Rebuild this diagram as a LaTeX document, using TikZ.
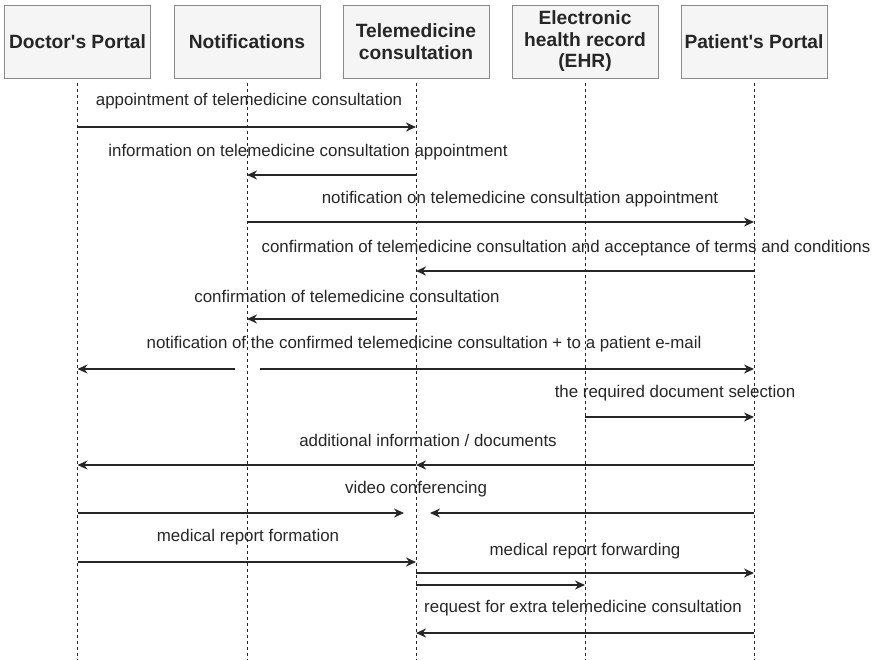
\documentclass[tikz,border=0pt]{standalone}
\usepackage{fontspec}
\setmainfont{Liberation Sans}
\usetikzlibrary{arrows.meta}
\definecolor{boxfill}{HTML}{F5F5F5}
\definecolor{boxline}{HTML}{8A8A8A}
\definecolor{ink}{HTML}{262626}
\begin{document}
\begin{tikzpicture}[x=1pt,y=-1pt,
		actor/.style={draw=boxline,fill=boxfill,line width=1pt,minimum width=146pt,minimum height=73pt,align=center,inner sep=0pt,text=ink,font=\bfseries\fontsize{19.2}{21.5}\selectfont},
		life/.style={draw=ink,line width=.8pt,dash pattern=on 3pt off 3pt},
		msg/.style={draw=ink,line width=1.3pt,-{Stealth[length=10pt,width=9pt]}},
		lbl/.style={text=ink,inner sep=0pt,font=\fontsize{16.9}{19}\selectfont}]
	\useasboundingbox (0,0) rectangle (874,659);

	% participants
	\node[actor] (doc) at (77.5,41.5) {Doctor\textquotesingle s Portal};
	\node[actor] (notif) at (247,41.5) {Notifications};
	\node[actor] (tele) at (416,41.5) {Telemedicine\\consultation};
	\node[actor] (ehr) at (585,41.5) {Electronic\\health record\\(EHR)};
	\node[actor] (pat) at (754,41.5) {Patient\textquotesingle s Portal};

	\coordinate (bot) at (0,659);
	\foreach \p in {doc,notif,tele,ehr,pat}
		\draw[life] ([yshift=-4pt]\p.south) -- (\p |- bot);

	% message rows
	\coordinate (r1) at (0,127);
	\coordinate (r2) at (0,175);
	\coordinate (r3) at (0,222);
	\coordinate (r4) at (0,271);
	\coordinate (r5) at (0,319);
	\coordinate (r6) at (0,369);
	\coordinate (r7) at (0,417);
	\coordinate (r8) at (0,465);
	\coordinate (r9) at (0,513);
	\coordinate (r10) at (0,562);
	\coordinate (r11) at (0,573);
	\coordinate (r12) at (0,585);
	\coordinate (r13) at (0,633);

	\node[lbl] (l1) at (249,101) {appointment of telemedicine consultation};
	\draw[msg] (doc |- r1) -- (tele |- r1);

	\node[lbl] (l2) at (308,152) {information on telemedicine consultation appointment};
	\draw[msg] (tele |- r2) -- (notif |- r2);

	\node[lbl] (l3) at (520,199) {notification on telemedicine consultation appointment};
	\draw[msg] (notif |- r3) -- (pat |- r3);

	\node[lbl] (l4) at (566,248) {confirmation of telemedicine consultation and acceptance of terms and conditions};
	\draw[msg] (pat |- r4) -- (tele |- r4);

	\node[lbl] (l5) at (347,296) {confirmation of telemedicine consultation};
	\draw[msg] (tele |- r5) -- (notif |- r5);

	\node[lbl] (l6) at (424,344) {notification of the confirmed telemedicine consultation + to a patient e-mail};
	\draw[msg] ([xshift=-12pt]notif |- r6) -- (doc |- r6);
	\draw[msg] ([xshift=13pt]notif |- r6) -- (pat |- r6);

	\node[lbl] (l7) at (675,393) {the required document selection};
	\draw[msg] (ehr |- r7) -- (pat |- r7);

	\node[lbl] (l8) at (428,440) {additional information / documents};
	\draw[msg] (pat |- r8) -- (tele |- r8);
	\draw[msg] (tele |- r8) -- (doc |- r8);

	\node[lbl] (l9) at (416,489) {video conferencing};
	\draw[msg] (doc |- r9) -- ([xshift=-12pt]tele |- r9);
	\draw[msg] (pat |- r9) -- ([xshift=14pt]tele |- r9);

	\node[lbl] (l10) at (248,537) {medical report formation};
	\draw[msg] (doc |- r10) -- (tele |- r10);

	\node[lbl] (l11) at (585,551) {medical report forwarding};
	\draw[msg] (tele |- r11) -- (pat |- r11);
	\draw[msg] (tele |- r12) -- (ehr |- r12);

	\node[lbl] (l12) at (583,608) {request for extra telemedicine consultation};
	\draw[msg] (pat |- r13) -- (tele |- r13);
\end{tikzpicture}
\end{document}
